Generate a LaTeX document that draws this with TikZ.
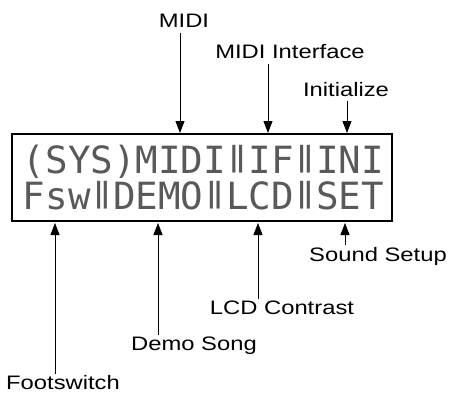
\documentclass[tikz,border=0pt]{standalone}
\usepackage{fontspec}
\setmainfont{Liberation Sans}
\newfontfamily\lblfont[FakeStretch=1.22]{Liberation Sans}
\newfontfamily\lcdfont{DejaVu Sans Mono}
\newfontfamily\lcdboldfont{DejaVu Sans Mono Bold}
\usetikzlibrary{arrows.meta}
\newcommand\lcdsep{\makebox[0.6em]{\raisebox{0.17em}{\scalebox{0.75}[0.74]{\lcdboldfont ‖}}}}
\begin{document}
\begin{tikzpicture}[x=1pt,y=-1pt,
  lbl/.style={font=\lblfont\fontsize{19.5}{21}\selectfont, inner sep=2pt},
  lcd/.style={font=\lcdfont\fontsize{37.5}{40}\selectfont, text=black!65, inner sep=0pt},
  arr/.style={line width=0.9pt, -{Triangle[width=9pt,length=12pt]}},
  box/.style={draw, line width=1.1pt}]
\useasboundingbox (0,0) rectangle (451,397);
% LCD frame
\node[box, minimum width=380pt, minimum height=87pt, inner sep=0pt] (lcd) at (202,177.5) {};
\node[lcd, anchor=base] (row1) at (203.5,173) {(SYS)MIDI\lcdsep IF\lcdsep INI};
\node[lcd, anchor=base] (row2) at (203.5,209) {Fsw\lcdsep DEMO\lcdsep LCD\lcdsep SET};
% top targets
\coordinate (tMidi) at (180,133);
\coordinate (tIf) at (268,133);
\coordinate (tIni) at (347,133);
% bottom targets
\coordinate (bFsw) at (55,223);
\coordinate (bDemo) at (158,223);
\coordinate (bLcd) at (258,223);
\coordinate (bSet) at (345,223);
% labels
\node[lbl] (lMidi) at (184,21) {MIDI};
\node[lbl] (lIf) at (290,52) {MIDI Interface};
\node[lbl] (lIni) at (346,90) {Initialize};
\node[lbl] (lSet) at (378,256) {Sound Setup};
\node[lbl] (lLcd) at (282,308) {LCD Contrast};
\node[lbl] (lDemo) at (194,346) {Demo Song};
\node[lbl] (lFsw) at (63,383) {Footswitch};
% arrows
\draw[arr] (lMidi.south -| tMidi) ++(0,3) -- (tMidi);
\draw[arr] (lIf.south -| tIf) ++(0,3) -- (tIf);
\draw[arr] (lIni.south -| tIni) ++(0,2) -- (tIni);
\draw[arr] (lSet.north -| bSet) -- (bSet);
\draw[arr] (lLcd.north -| bLcd) -- (bLcd);
\draw[arr] (lDemo.north -| bDemo) -- (bDemo);
\draw[arr] (lFsw.north -| bFsw) -- (bFsw);
\end{tikzpicture}
\end{document}
